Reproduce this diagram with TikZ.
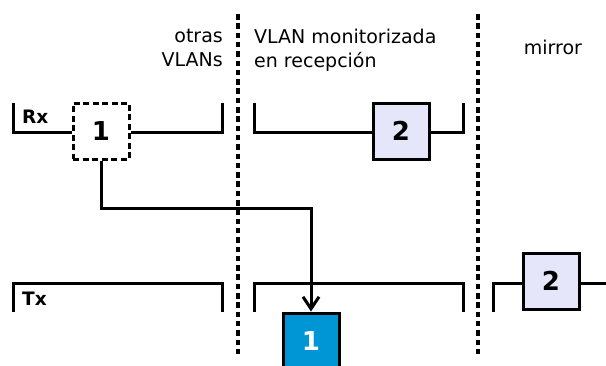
\documentclass[tikz,border=0pt]{standalone}
\usepackage{fontspec}
\setmainfont{DejaVu Sans}
\usetikzlibrary{arrows.meta}
\definecolor{lav}{RGB}{230,230,250}
\definecolor{bluefill}{RGB}{0,150,214}
\tikzset{
  lbl/.style={font=\fontsize{19}{24}\selectfont, inner sep=0pt, align=left},
  port/.style={draw, line width=3pt, minimum size=56pt, inner sep=0pt,
    font=\bfseries\fontsize{26}{26}\selectfont},
  wire/.style={line width=3pt},
  sep/.style={line width=3.2pt, dash pattern=on 5.5pt off 3.8pt},
  tag/.style={font=\bfseries\fontsize{18.5}{18.5}\selectfont, inner sep=0pt, anchor=west}
}
\begin{document}
\begin{tikzpicture}[x=1pt,y=-1pt]
\useasboundingbox (0,0) rectangle (606,365);

% column separators
\draw[sep] (238,14) -- (238,355);
\draw[sep] (478,14) -- (478,355);

% headings
\node[lbl, align=right, anchor=north east] (hOther) at (223,29) {otras\\VLANs};
\node[lbl, anchor=north west] (hMon) at (254,29) {VLAN monitorizada\\en recepción};
\node[lbl] (hMirror) at (553,47) {mirror};

% ports
\node[port, dashed, dash pattern=on 6pt off 3.5pt, fill=white] (p1rx) at (101,131) {1};
\node[port, fill=lav] (p2rx) at (401,131) {2};
\node[port, fill=bluefill, text=white] (p1tx) at (311,341) {1};
\node[port, fill=lav] (p2mir) at (551,281) {2};

% row labels
\node[tag] (rx) at (22,117) {Rx};
\node[tag] (tx) at (22,299) {Tx};

% Rx row, other VLANs
\coordinate (a1) at (13,103);
\coordinate (a2) at (222,103);
\draw[wire] (a1) -- (13,132) -- (p1rx.west |- 0,132);
\draw[wire] (p1rx.east |- 0,132) -- (222,132) -- (a2);

% Rx row, monitored VLAN
\coordinate (b1) at (254,103);
\coordinate (b2) at (463,103);
\draw[wire] (b1) -- (254,132) -- (p2rx.west |- 0,132);
\draw[wire] (p2rx.east |- 0,132) -- (463,132) -- (b2);

% Tx row, other VLANs
\coordinate (c1) at (13,312);
\coordinate (c2) at (222,312);
\draw[wire] (c1) -- (13,283) -- (222,283) -- (c2);

% Tx row, monitored VLAN
\coordinate (d1) at (254,312);
\coordinate (d2) at (463,312);
\draw[wire] (d1) -- (254,283) -- (463,283) -- (d2);

% mirror port
\coordinate (e1) at (493,312);
\coordinate (e2) at (606,283);
\draw[wire] (e1) -- (493,283) -- (p2mir.west |- 0,283);
\draw[wire] (p2mir.east |- 0,283) -- (e2);

% forwarding path
\draw[wire, -{Straight Barb[length=12pt,width=16pt,line width=3pt]}]
  (p1rx.south) -- (101,208) -- (311,208) -- (p1tx.north);
\end{tikzpicture}
\end{document}
